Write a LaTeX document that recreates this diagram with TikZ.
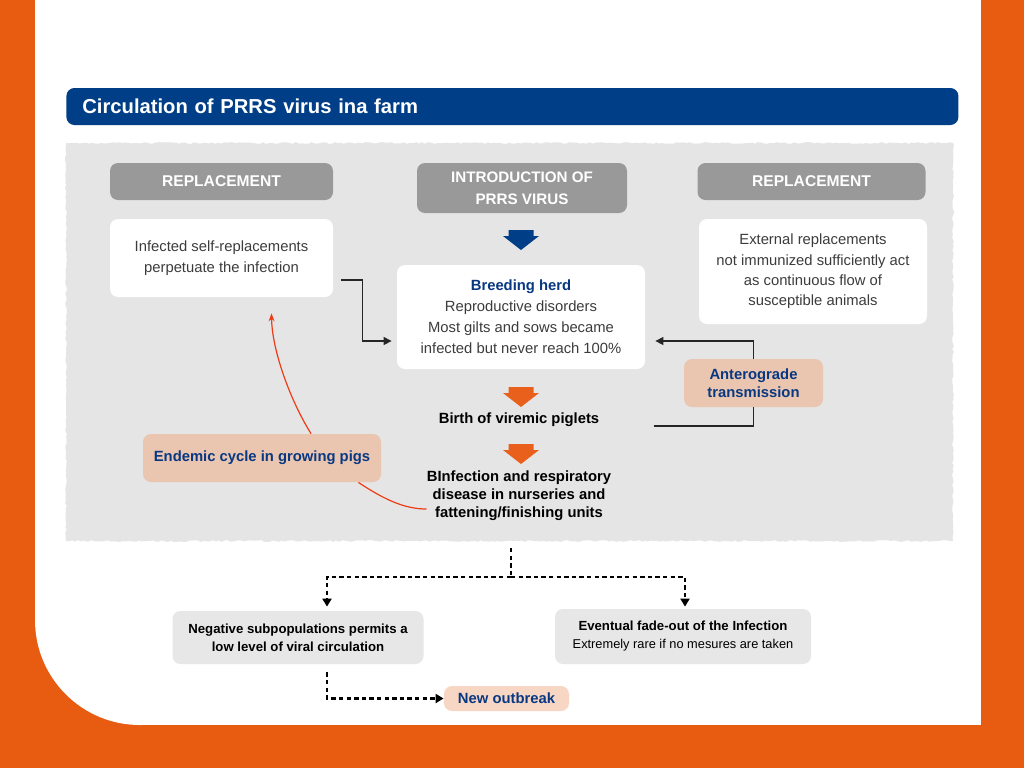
\documentclass[tikz,border=0pt]{standalone}
\usepackage{fontspec}
\setmainfont{Liberation Sans}
\usepackage{tikz}
\usetikzlibrary{positioning}
\usetikzlibrary{calc}
\usetikzlibrary{arrows.meta}
\usetikzlibrary{decorations.pathmorphing}

\definecolor{farmorange}{RGB}{232,92,18}
\definecolor{farmblue}{RGB}{0,63,135}
\definecolor{textblue}{RGB}{8,56,130}
\definecolor{headgray}{RGB}{153,153,153}
\definecolor{areagray}{RGB}{229,229,229}
\definecolor{boxgray}{RGB}{231,231,231}
\definecolor{bodytext}{RGB}{60,60,60}
\definecolor{peach}{RGB}{234,197,176}
\definecolor{lightpeach}{RGB}{248,214,196}
\definecolor{cyclered}{RGB}{240,60,20}
\definecolor{arroworange}{RGB}{232,96,28}

\newcommand{\fsz}[2]{\fontsize{#1}{#2}\selectfont}

\begin{document}
\begin{tikzpicture} [
    x=0.5pt, y=-0.5pt,             % one unit is one pixel, y going down
    ]
% -------------------------------------------------
\tikzset{
  base/.style={align=center, inner sep=0pt, rounded corners=4pt},
  head/.style={base, fill=headgray, text=white, font=\bfseries\fsz{7.8pt}{11pt}},
  card/.style={base, fill=white, text=bodytext, font=\fsz{7.4pt}{10.5pt}},
  tag/.style={base, fill=peach, text=textblue, font=\bfseries\fsz{7.4pt}{9pt}},
  stage/.style={base, text=black, font=\bfseries\fsz{7.4pt}{9pt}},
  outcome/.style={base, fill=boxgray, text=black, font=\bfseries\fsz{6.6pt}{9pt}},
  conn/.style={draw, line width=0.6pt, black!85},
  cycleline/.style={draw, line width=0.6pt, cyclered},
  dots/.style={draw, line width=1.2pt, dash pattern=on 2.2pt off 1.6pt, -{Triangle[length=4pt,width=4.5pt]}},
  pics/blockarrow/.style={code={
    \fill[#1] (-12.5,0) -- (12.5,0) -- (12.5,6) -- (18,6) -- (0,20) -- (-18,6) -- (-12.5,6) -- cycle;}},
}
\useasboundingbox (0,0) rectangle (1024,768);

% page and panel
\fill[farmorange] (0,0) rectangle (1024,768);
\fill[white] (35,0) rectangle (981,620);
\fill[white] (140,0) rectangle (981,725);
\fill[white] (140,620) circle [radius=52.5pt];

% title bar
\node [base, fill=farmblue, text=white, anchor=west, text width=430pt, inner xsep=8pt,
       minimum height=18.5pt, align=left, font=\bfseries\fsz{10.1pt}{12pt}] (title) at (66,106.5)
      {Circulation of PRRS virus ina farm};

% grey field
\fill[areagray, decorate, decoration={random steps, segment length=1.5pt, amplitude=0.45pt}]
     (66,143) rectangle (953,541);

% -------------------------------------------------
\node [head, minimum width=111.5pt, minimum height=18.5pt] (repL) at (221.5,181.5) {REPLACEMENT};
\node [head, minimum width=105pt, minimum height=25pt, font=\bfseries\fsz{7.6pt}{11pt}] (intro) at (522,188)
      {INTRODUCTION OF\\PRRS VIRUS};
\node [head, minimum width=114pt, minimum height=18.5pt] (repR) at (811.5,181.5) {REPLACEMENT};

\node [card, minimum width=111.5pt, minimum height=39pt] (selfrep) at (221.5,258)
      {Infected self-replacements\\perpetuate the infection};
\node [card, minimum width=114pt, minimum height=52.5pt, font=\fsz{7.4pt}{10.2pt}] (extrep) at (813,271.5)
      {External replacements\\not immunized sufficiently act\\as continuous flow of\\susceptible animals};
\node [card, minimum width=124pt, minimum height=52pt] (herd) at (521,317)
      {{\bfseries\color{textblue}Breeding herd}\\Reproductive disorders\\Most gilts and sows became\\infected but never reach 100\%};

\node [stage] (birth) at (519,420) {Birth of viremic piglets};
\node [stage] (binf) at (519,496)
      {BInfection and respiratory\\disease in nurseries and\\fattening/finishing units};

\node [tag, minimum width=69.5pt, minimum height=24pt] (antero) at (753.5,383) {Anterograde\\transmission};
\node [tag, minimum width=119pt, minimum height=24pt] (endemic) at (262,458) {Endemic cycle in growing pigs};

\pic at (521,230) {blockarrow=farmblue};
\pic at (521,387) {blockarrow=arroworange};
\pic at (521,444) {blockarrow=arroworange};

% connectors in the field
\path [conn, -{Triangle[length=4pt,width=4pt]}] ([xshift=4pt,yshift=-11pt]selfrep.east) -- ++(21,0)
      |- ([xshift=-2.5pt,yshift=-12pt]herd.west);
\path [conn] ([xshift=27pt,yshift=-3pt]birth.east) -| (antero.south);
\path [conn, -{Triangle[length=4pt,width=4pt]}] (antero.north) |- ([xshift=5pt,yshift=-12pt]herd.east);

\path [cycleline] ([yshift=-6.5pt]binf.west) .. controls (405,509) and (385,500) .. ([xshift=-11.5pt]endemic.south east);
\path [cycleline, -{Stealth[length=4pt,width=3pt]}] ([xshift=24.5pt]endemic.north)
      .. controls (290,400) and (272,350) .. ([xshift=25pt,yshift=-8pt]selfrep.south);

% -------------------------------------------------
\node [outcome, minimum width=125.5pt, minimum height=26.5pt] (negsub) at (298,637.5)
      {Negative subpopulations permits a\\low level of viral circulation};
\node [outcome, minimum width=128pt, minimum height=27.5pt] (fade) at (683,636.5)
      {Eventual fade-out of the Infection\\{\mdseries\fsz{6.4pt}{9.5pt}Extremely rare if no mesures are taken}};
\node [base, fill=lightpeach, text=textblue, minimum width=62.5pt, minimum height=12.5pt,
       font=\bfseries\fsz{7.4pt}{9pt}] (newout) at (506.5,698.5) {New outbreak};

\coordinate (split) at (511,548);
\coordinate (fork) at (511,577);
\draw [dots, -] (split) -- (fork);
\draw [dots, shorten >=2pt] (fork) -| ([xshift=14.5pt]negsub.north);
\draw [dots, shorten >=1pt] (fork) -| ([xshift=1pt]fade.north);
\draw [dots] ([xshift=14.5pt,yshift=-4pt]negsub.south) |- (newout.west);

\end{tikzpicture}
\end{document}
